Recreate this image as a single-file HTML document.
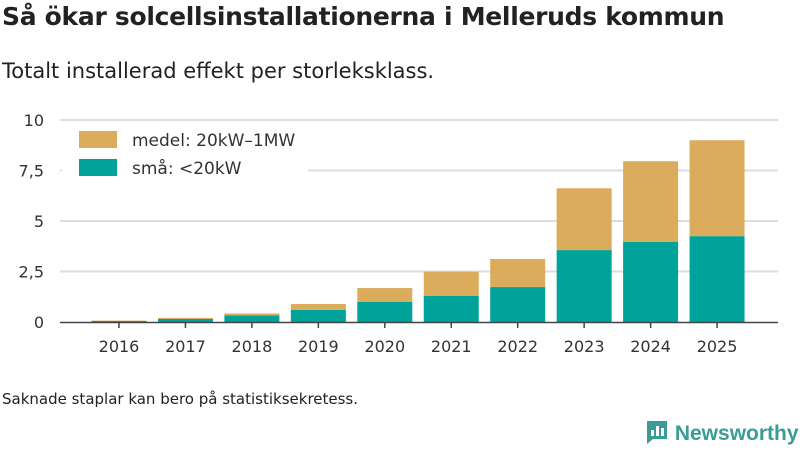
<!DOCTYPE html>
<html><head><meta charset="utf-8"><style>
body{margin:0;width:800px;height:450px;background:#fff;font-family:"DejaVu Sans","Liberation Sans",sans-serif;color:#222;overflow:hidden;position:relative}
h1{position:absolute;left:2px;top:2px;margin:0;font-size:25px;font-weight:bold;letter-spacing:-0.3px;white-space:nowrap}
.sub{position:absolute;left:2px;top:59px;font-size:21px;white-space:nowrap}
.note{position:absolute;left:2px;top:390px;font-size:15px;white-space:nowrap}
.logo{position:absolute;left:645px;top:419px;font-size:21px;color:#3a9c94;font-weight:bold;white-space:nowrap;font-family:"Liberation Sans",sans-serif}
</style></head><body>
<h1>Så ökar solcellsinstallationerna i Melleruds kommun</h1>
<div class="sub">Totalt installerad effekt per storleksklass.</div>
<svg id="chart" width="800" height="450" style="position:absolute;left:0;top:0"></svg>
<div class="note">Saknade staplar kan bero på statistiksekretess.</div>
<div class="logo"><svg width="24" height="26" style="vertical-align:-5px"><path d="M2 2h20v18H8l-6 5z" fill="#3a9c94"/><rect x="6" y="11" width="3" height="6" fill="#fff"/><rect x="11" y="7" width="3" height="10" fill="#fff"/><rect x="16" y="9" width="3" height="8" fill="#fff"/></svg> Newsworthy</div>
<script>
const years=["2016","2017","2018","2019","2020","2021","2022","2023","2024","2025"];
const small=[0.05,0.15,0.33,0.6,0.99,1.29,1.73,3.56,3.96,4.25];
const medium=[0.02,0.05,0.09,0.29,0.69,1.2,1.39,3.06,4.0,4.75];
const yTicks=[0,2.5,5,7.5,10];
const yTickLabels=["0","2,5","5","7,5","10"];
const NS="http://www.w3.org/2000/svg";
const svg=document.getElementById('chart');
const y=v=>322-v*20.2;
const x=i=>119+i*66.45;
const bw=55;
function el(t,a){const e=document.createElementNS(NS,t);for(const k in a)e.setAttribute(k,a[k]);svg.appendChild(e);return e;}
yTicks.forEach((t,i)=>{
 if(t>0){const g=el('line',{x1:60,x2:778,y1:y(t),y2:y(t),stroke:'#ddd','stroke-width':2});
 
 }
 const l=el('text',{x:44,y:y(t)+6,'text-anchor':'end','font-size':16,fill:'#333','font-family':'DejaVu Sans, Liberation Sans, sans-serif'});
 l.textContent=yTickLabels[i];
 
 
});
const lb=el('rect',{x:62,y:124,width:246,height:58,fill:'#fff'});


years.forEach((yr,i)=>{
 const s=el('rect',{x:x(i)-bw/2,y:y(small[i]),width:bw,height:small[i]*20.2,fill:'#00a39a'});
 
 
 const m=el('rect',{x:x(i)-bw/2,y:y(small[i]+medium[i]),width:bw,height:medium[i]*20.2,fill:'#dbac5b'});
 
 
 const tk=el('line',{x1:x(i),x2:x(i),y1:322,y2:328,stroke:'#444','stroke-width':1.5});
 
 
 const t=el('text',{x:x(i),y:352,'text-anchor':'middle','font-size':16,fill:'#333','font-family':'DejaVu Sans, Liberation Sans, sans-serif'});
 t.textContent=yr;
 
 
});
const ax=el('line',{x1:60,x2:778,y1:322.5,y2:322.5,stroke:'#444','stroke-width':1.5});


[["#dbac5b","medel: 20kW–1MW",131,'legend-entry-medel'],["#00a39a","små: <20kW",159,'legend-entry-sma']].forEach(d=>{
 const r=el('rect',{x:79,y:d[2],width:38,height:17,fill:d[0]});
 
 
 const t=el('text',{x:132,y:d[2]+15,'font-size':17,fill:'#333','font-family':'DejaVu Sans, Liberation Sans, sans-serif'});
 t.textContent=d[1];
 
 
});
</script>
</body></html>
